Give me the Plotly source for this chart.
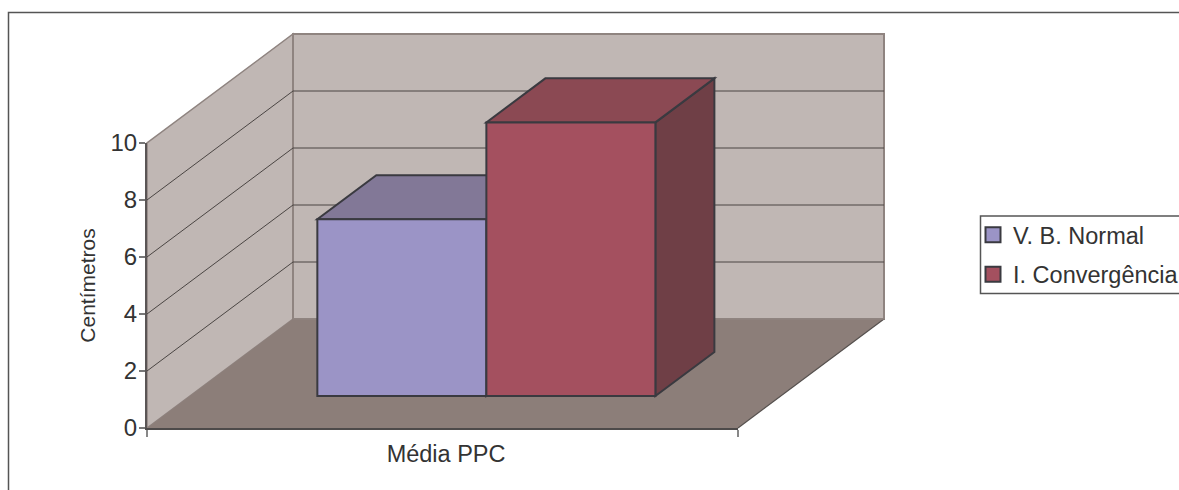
import plotly.graph_objects as go

categories = ["Média PPC"]
series_names = ["V. B. Normal", "I. Convergência"]
series_values = [6.2, 9.6]
y_ticks = [0, 2, 4, 6, 8, 10]

front_colors = ["#9b94c6", "#a4505f"]
top_colors = ["#827897", "#8b4953"]
side_colors = ["#6a5f85", "#6f3f46"]
EDGE = "#3a3a40"
WALL = "#c0b7b4"
FLOOR = "#8c7e79"
WALL_EDGE = "#8f8480"
GRID = "#4a4543"
TEXT = "#333333"
FONT = "Liberation Sans"
W, H = 1179, 490

# oblique projection of the 3-D box (in axis units)
DX, DY = 146 / 591, 109 / 28.5
BAR_W = 0.286
D0, D1 = 0.2936, 0.2936 + 0.404
YMAX = max(y_ticks)


def proj(x, y, d):
    return x + d * DX, y + d * DY


def poly(pts, fill, line=None, width=1):
    path = "M" + " L".join(f"{x:.5f},{y:.5f}" for x, y in pts) + " Z"
    return dict(type="path", path=path, xref="x", yref="y", layer="below",
                fillcolor=fill, line=dict(color=line or fill, width=width if line else 0))


def seg(p, q, color, width=1):
    return dict(type="line", xref="x", yref="y", layer="below", x0=p[0], y0=p[1], x1=q[0], y1=q[1],
                line=dict(color=color, width=width))


shapes = []
# walls and floor
shapes.append(poly([proj(0, 0, 0), proj(0, 0, 1), proj(0, YMAX, 1), proj(0, YMAX, 0)], WALL, WALL_EDGE, 1.5))
shapes.append(poly([proj(0, 0, 1), proj(1, 0, 1), proj(1, YMAX, 1), proj(0, YMAX, 1)], WALL, WALL_EDGE, 2))
shapes.append(poly([proj(0, 0, 0), proj(1, 0, 0), proj(1, 0, 1), proj(0, 0, 1)], FLOOR))
shapes.append(seg(proj(1, 0, 0), proj(1, 0, 1), "#55504e", 1.2))
shapes.append(seg(proj(0, 0, 1), proj(1, 0, 1), WALL_EDGE, 1.5))
for v in y_ticks[1:-1]:
    shapes.append(seg(proj(0, v, 0), proj(0, v, 1), GRID))
    shapes.append(seg(proj(0, v, 1), proj(1, v, 1), GRID))

# bar tops and sides
center = 0.5 + D0 * DX + 1 / 591
xs = [center - BAR_W / 2, center + BAR_W / 2]
base = D0 * DY
depth = D1 - D0
for i, (xc, v) in enumerate(zip(xs, series_values)):
    l, r = xc - BAR_W / 2, xc + BAR_W / 2
    t = base + v
    shapes.append(poly([(r, base), proj(r, base, depth), proj(r, t, depth), (r, t)], side_colors[i], EDGE, 2))
    shapes.append(poly([(l, t), (r, t), proj(r, t, depth), proj(l, t, depth)], top_colors[i], EDGE, 2))

# frame and legend box
shapes.append(dict(type="rect", xref="paper", yref="paper", layer="below",
                   x0=8.5 / W, x1=1200 / W, y0=-0.05, y1=1 - 12.5 / H,
                   line=dict(color="#555555", width=1.5), fillcolor="rgba(0,0,0,0)"))
shapes.append(dict(type="rect", xref="paper", yref="paper", layer="below",
                   x0=980.5 / W, x1=1200 / W, y0=1 - 293.5 / H, y1=1 - 216 / H,
                   line=dict(color="#555555", width=1.5), fillcolor="white"))

fig = go.Figure()
# front faces of the bars
for i, name in enumerate(series_names):
    fig.add_trace(go.Bar(x=[xs[i]], y=[series_values[i]], base=[base], width=[BAR_W], name=name,
                         xaxis="x", yaxis="y", showlegend=False,
                         marker=dict(color=front_colors[i], line=dict(color=EDGE, width=2))))
for i, name in enumerate(series_names):
    fig.add_trace(go.Scatter(x=[None], y=[None], mode="markers", name=name, xaxis="x2", yaxis="y2",
                             legendgroup=name,
                             marker=dict(symbol="square", size=15, color=front_colors[i],
                                         line=dict(color=EDGE, width=2))))

fig.update_layout(
    width=W, height=H, autosize=False,
    margin=dict(l=0, r=0, t=0, b=0, autoexpand=False),
    paper_bgcolor="white", plot_bgcolor="rgba(0,0,0,0)",
    font=dict(family=FONT, size=21, color=TEXT),
    shapes=shapes, barmode="overlay",
    xaxis=dict(domain=[0, 1], range=[-147 / 591, (W - 147) / 591], visible=False, fixedrange=True),
    yaxis=dict(domain=[0, 1], range=[-62 / 28.5, 428 / 28.5], visible=False, fixedrange=True),
    xaxis2=dict(domain=[147 / W, 738 / W], range=[0, 1], anchor="y2",
                tickmode="array", tickvals=[0.506], ticktext=categories, ticks="",
                showgrid=False, zeroline=False, showline=True, linecolor="#4d4a4a", linewidth=2,
                ticklabelstandoff=4,
                tickfont=dict(family=FONT, size=23.5, color=TEXT),
                minor=dict(tickmode="array", tickvals=[0, 1], ticks="outside", ticklen=7,
                           tickcolor="#888888", tickwidth=1.5, showgrid=False)),
    yaxis2=dict(domain=[62 / H, 347 / H], range=[0, YMAX], anchor="x2",
                tickmode="array", tickvals=y_ticks, ticks="outside", ticklen=6,
                tickcolor="#777777", tickwidth=1.5,
                showgrid=False, zeroline=False, showline=True, linecolor="#5a5555", linewidth=2,
                ticklabelstandoff=-3,
                tickfont=dict(family=FONT, size=24, color=TEXT),
                title=dict(text="Centímetros", standoff=9,
                           font=dict(family=FONT, size=21, color=TEXT))),
    legend=dict(x=973 / W, y=1 - 213 / H, xanchor="left", yanchor="top",
                bgcolor="rgba(0,0,0,0)", borderwidth=0, itemwidth=30,
                tracegroupgap=6, itemclick=False, itemdoubleclick=False,
                font=dict(family=FONT, size=23.5, color=TEXT)),
)
fig.write_html("out.html", config={"displayModeBar": False},
               post_script="document.body.style.margin='0';document.body.style.overflow='hidden';")
